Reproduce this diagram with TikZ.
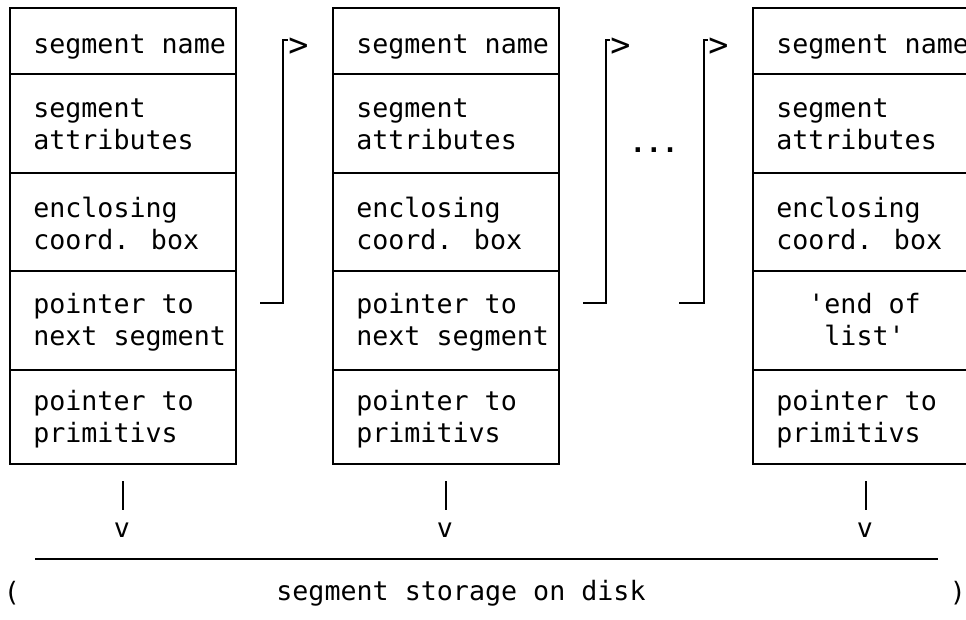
\documentclass[tikz,border=0pt]{standalone}
\usepackage{fontspec}
\usetikzlibrary{calc}
\newfontfamily\termfont{DejaVu Sans Mono}
\newcommand\segfont{\termfont\fontsize{20}{24}\selectfont}
\newcommand\tipfont{\termfont\fontsize{25}{30}\selectfont}

% one segment record: #1 name prefix, #2 left x, #3 text of the fourth field
\newcommand\segcol[3]{%
  \node[cell, minimum height=49.5pt]  (#1r1) at (#2,7)   {};
  \node[cell, minimum height=74.25pt] (#1r2) at (#2,73)  {};
  \node[cell, minimum height=73.5pt]  (#1r3) at (#2,172) {};
  \node[cell, minimum height=74.25pt] (#1r4) at (#2,270) {};
  \node[cell, minimum height=70.5pt]  (#1r5) at (#2,369) {};
  \node[celltext] (#1t1) at (#2+24,47)  {\strut segment name};
  \node[celltext] (#1t2) at (#2+24,127) {\strut segment\\\strut attributes};
  \node[celltext] (#1t3) at (#2+24,227) {\strut enclosing\\\strut coord. box};
  \node[celltext] (#1t4) at (#2+24,323) {#3};
  \node[celltext] (#1t5) at (#2+24,420) {\strut pointer to\\\strut primitivs};
}

\begin{document}
\begin{tikzpicture}[x=0.75pt,y=-0.75pt,
  cell/.style={draw, rectangle, line width=1.5pt, inner sep=0pt,
    anchor=north west, minimum width=169.5pt},
  celltext/.style={anchor=west, inner sep=0pt, align=left, font=\segfont},
  plain/.style={inner sep=0pt, font=\segfont},
  tipchar/.style={anchor=west, inner sep=0pt, font=\tipfont},
  conn/.style={line width=1.4pt},
  bar/.style={line width=1.1pt},
  disk/.style={line width=2.2pt}]
\useasboundingbox (0,0) rectangle (966,620);

% the three segment records
\segcol{a}{9}{\strut pointer to\\\strut next segment}
\segcol{b}{332}{\strut pointer to\\\strut next segment}
\segcol{c}{752}{\strut\hphantom{xx}'end of\\\strut\hphantom{xxx}list'}

% links to the next record
\coordinate (s1) at (260,303);
\coordinate (k1) at (283,40);
\node[tipchar] (g1) at (288,47) {>};
\draw[conn] (s1) -| (k1) -- (k1 -| g1.west);

\coordinate (s2) at (583,303);
\coordinate (k2) at (606,40);
\node[tipchar] (g2) at (610,47) {>};
\draw[conn] (s2) -| (k2) -- (k2 -| g2.west);

\coordinate (s3) at (679,303);
\coordinate (k3) at (704,40);
\node[tipchar] (g3) at (708,47) {>};
\draw[conn] (s3) -| (k3) -- (k3 -| g3.west);

\node[plain, font=\segfont\bfseries] (dots) at (654,150) {...};

% pointers down to the primitives on disk
\node[plain] (v1) at (122,530) {v};
\node[plain] (v2) at (445,530) {v};
\node[plain] (v3) at (865,530) {v};
\draw[bar] ($(ar5.south)+(0,16)$) -- ($(ar5.south |- v1.north)+(0,-12)$);
\draw[bar] ($(br5.south)+(0,16)$) -- ($(br5.south |- v2.north)+(0,-12)$);
\draw[bar] ($(cr5.south)+(0,16)$) -- ($(cr5.south |- v3.north)+(0,-12)$);

% disk storage
\coordinate (d1) at (35,559);
\coordinate (d2) at (938,559);
\draw[disk] (d1) -- (d2);
\node[plain] (lp) at (12,593) {(};
\node[plain] (rp) at (958,593) {)};
\node[plain] (disktext) at (461,593) {segment storage on disk};
\end{tikzpicture}
\end{document}
